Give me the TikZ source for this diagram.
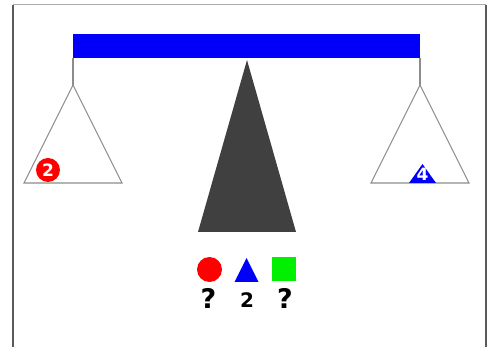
\documentclass[tikz,border=0pt]{standalone}
\usepackage{fontspec}
\setmainfont{DejaVu Sans}

\definecolor{beamblue}{RGB}{0,0,250}
\definecolor{weightred}{RGB}{255,0,0}
\definecolor{weightgreen}{RGB}{0,240,0}
\definecolor{pivotgray}{RGB}{64,64,64}
\definecolor{pangray}{RGB}{140,140,140}
\definecolor{framegray}{RGB}{90,90,90}

\begin{document}
\begin{tikzpicture}[
  x=1pt, y=-1pt,
  every node/.style={inner sep=0pt},
  pan/.style={draw=pangray, line width=1.1pt, line join=miter},
  hanger/.style={draw=pangray, line width=1.1pt},
  ball/.style={circle, fill=weightred, minimum size=24pt, text=white,
    font=\bfseries\fontsize{17}{17}\selectfont},
  digit/.style={text=white, font=\bfseries\fontsize{17}{17}\selectfont},
  query/.style={font=\bfseries\fontsize{27}{27}\selectfont},
  count/.style={font=\bfseries\fontsize{20}{20}\selectfont}]

  % page and frame
  \useasboundingbox (0,0) rectangle (493,347);
  \fill[white] (0,0) rectangle (493,347);
  \draw[framegray, line width=1.3pt] (13,347) -- (13,5);
  \draw[framegray!50, line width=1pt] (13,5) -- (486,5);
  \draw[framegray, line width=1.3pt] (486,5) -- (486,347);

  % beam, pivot and pans
  \fill[beamblue] (73,34) rectangle (420,58);
  \fill[pivotgray] (247,60) -- (296,232) -- (198,232) -- cycle;
  \coordinate (hl) at (73,58);
  \coordinate (hr) at (420,58);
  \coordinate (pl) at (73,85);
  \coordinate (pr) at (420,85);
  \draw[hanger] (hl) -- (pl);
  \draw[hanger] (hr) -- (pr);
  \draw[pan] (pl) -- (122,183) -- (24,183) -- cycle;
  \draw[pan] (pr) -- (469,183) -- (371,183) -- cycle;

  % weights on the pans
  \node[ball] (lw) at (48,170) {2};
  \fill[beamblue] (422.5,164) -- (436,183) -- (409,183) -- cycle;
  \node[digit] (rw) at (422.5,174) {4};

  % legend
  \node[circle, fill=weightred, minimum size=25pt] (kc) at (209.5,269.5) {};
  \fill[beamblue] (246.5,258) -- (258.5,282) -- (234.5,282) -- cycle;
  \coordinate (kt) at (246.5,270);
  \node[fill=weightgreen, minimum size=24pt] (ks) at (284,269.5) {};
  \node[query] (qc) at (208.5,298) {?};
  \node[count] (qt) at (247,300) {2};
  \node[query] (qs) at (285,298) {?};
\end{tikzpicture}
\end{document}
